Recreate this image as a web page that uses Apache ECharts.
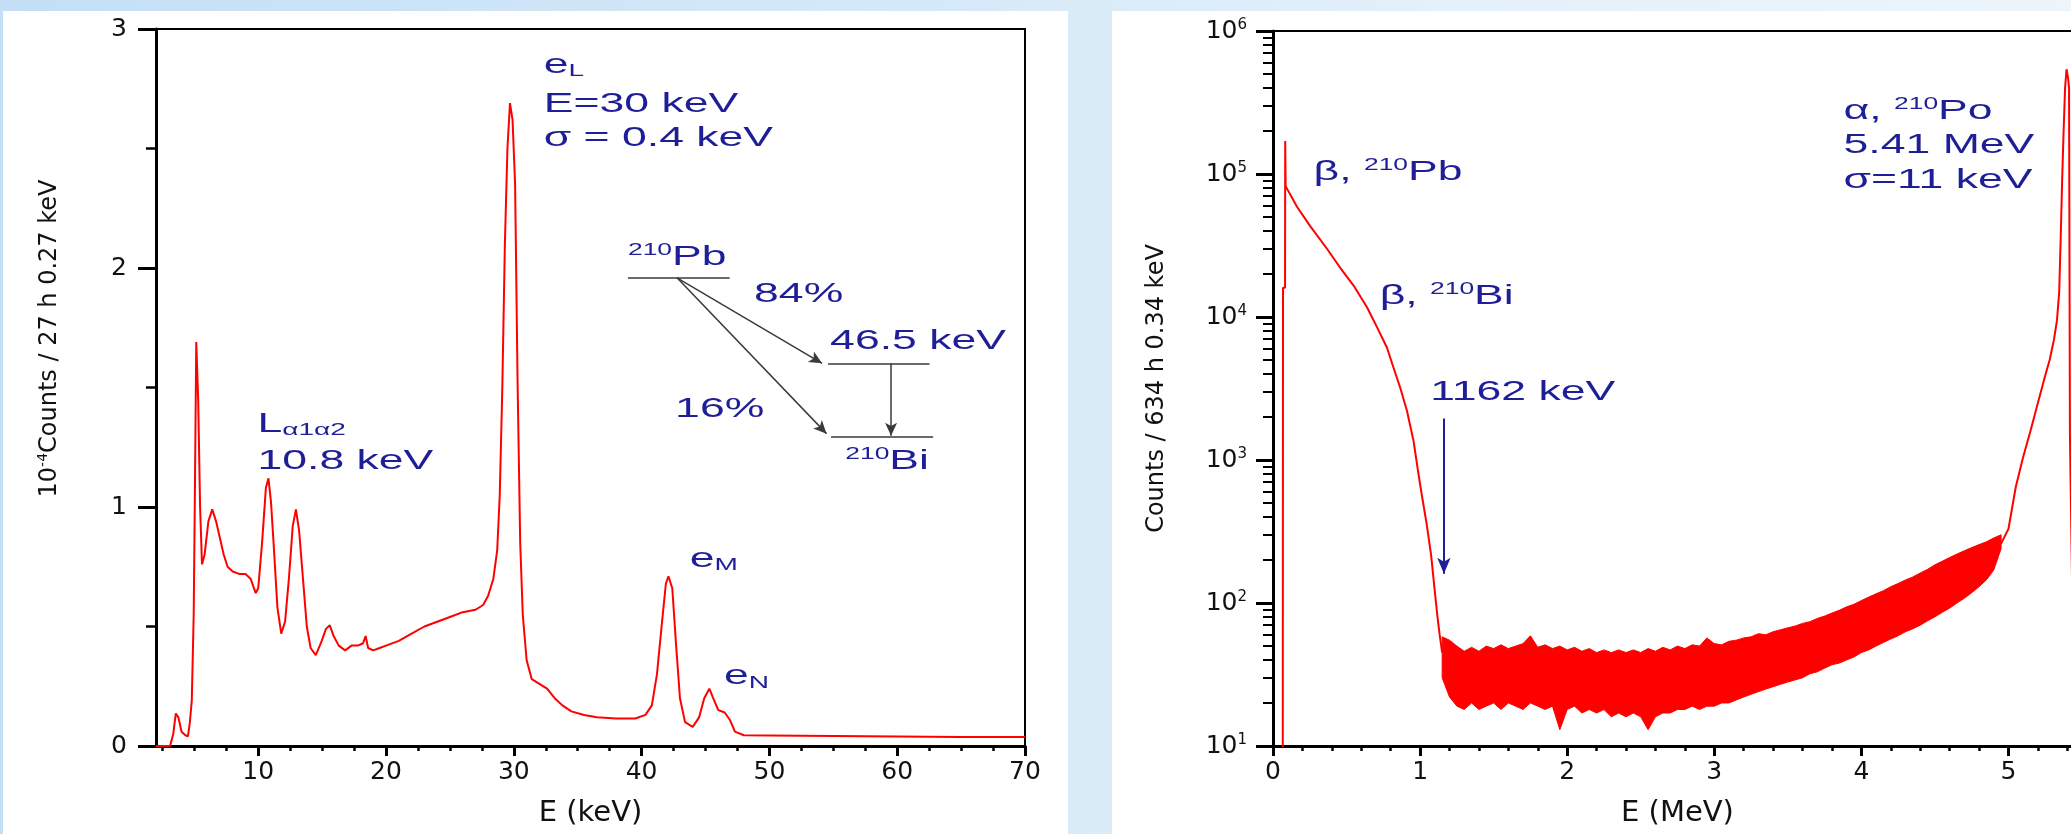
<!DOCTYPE html>
<html>
<head>
<meta charset="utf-8">
<script src="https://cdn.jsdelivr.net/npm/echarts@6/dist/echarts.min.js"></script>
<style>
  html, body { margin: 0; padding: 0; }
  body {
    width: 2071px; height: 834px; overflow: hidden; position: relative;
    background: linear-gradient(to right, #c4dff5 0%, #d6e9f8 45%, #e4f0fa 70%, #edf5fb 100%);
  }
  .panel { position: absolute; top: 11px; bottom: 0; background: #fff; }
  /* the right frame of the MeV plot lies just past the page edge, as in the original */
  #chart { position: absolute; left: 0; top: 0; width: 2100px; height: 834px; }
</style>
</head>
<body>
<div class="panel" style="left:3px;width:1065px"></div>
<div class="panel" style="left:1112px;width:959px"></div>
<div id="chart"></div>
<script>
// left panel: low energy spectrum (keV, 10^-4 counts)
const leftEnergy = [2.0, 3.1, 3.2, 3.35, 3.55, 3.75, 4.0, 4.3, 4.5, 4.65, 4.8, 4.95, 5.05, 5.15, 5.3, 5.45, 5.6, 5.8, 6.1, 6.4,
  6.7, 7.0, 7.3, 7.6, 8.0, 8.5, 9.0, 9.4, 9.8, 10.0, 10.3, 10.6, 10.8, 11.0, 11.2, 11.5, 11.8, 12.1, 12.4, 12.7,
  12.95, 13.2, 13.5, 13.8, 14.1, 14.5, 14.9, 15.3, 15.6, 15.9, 16.3, 16.8, 17.3, 17.8, 18.2, 18.4, 18.6, 19.0, 19.5, 20.0,
  21.0, 22.0, 23.0, 24.0, 25.0, 26.0, 27.0, 27.6, 28.0, 28.4, 28.7, 28.9, 29.1, 29.3, 29.5, 29.7, 29.9, 30.1, 30.3, 30.5,
  30.7, 31.0, 31.4, 32.0, 32.6, 33.2, 33.8, 34.5, 35.5, 36.5, 38.0, 39.5, 40.3, 40.8, 41.2, 41.6, 41.9, 42.1, 42.4, 42.7,
  43.0, 43.4, 44.0, 44.5, 44.9, 45.3, 45.6, 46.0, 46.5, 46.9, 47.3, 48.0, 50.0, 55.0, 60.0, 65.0, 70.0];
const leftCounts = [0, 0, 0.02, 0.05, 0.136, 0.12, 0.06, 0.045, 0.04, 0.10, 0.19, 0.55, 1.1, 1.69, 1.45, 1.0, 0.76, 0.80, 0.94, 0.99,
  0.94, 0.87, 0.80, 0.75, 0.73, 0.72, 0.72, 0.70, 0.64, 0.66, 0.85, 1.08, 1.12, 1.02, 0.85, 0.58, 0.47, 0.52, 0.70, 0.92,
  0.99, 0.90, 0.70, 0.50, 0.41, 0.38, 0.43, 0.49, 0.505, 0.46, 0.42, 0.40, 0.42, 0.42, 0.43, 0.46, 0.41, 0.40, 0.41, 0.42,
  0.44, 0.47, 0.50, 0.52, 0.54, 0.56, 0.57, 0.59, 0.63, 0.70, 0.82, 1.05, 1.50, 2.10, 2.50, 2.69, 2.62, 2.35, 1.50, 0.85,
  0.55, 0.36, 0.28, 0.26, 0.24, 0.20, 0.17, 0.145, 0.13, 0.12, 0.115, 0.115, 0.13, 0.17, 0.30, 0.52, 0.68, 0.71, 0.66, 0.42,
  0.20, 0.10, 0.08, 0.12, 0.20, 0.24, 0.20, 0.15, 0.14, 0.11, 0.06, 0.045, 0.044, 0.042, 0.040, 0.038, 0.038];

// right panel: beta part (MeV, counts)
const betaEnergy = [0.066, 0.068, 0.082, 0.083, 0.086, 0.095, 0.163, 0.254, 0.367, 0.458, 0.548, 0.639, 0.707, 0.775, 0.820,
  0.865, 0.911, 0.956, 0.985, 1.008, 1.044, 1.075, 1.097, 1.12, 1.133, 1.15];
const betaCounts = [1, 16000, 16000, 170000, 82000, 79000, 59000, 43000, 30000, 22000, 16600, 11700, 8500, 6100, 4400,
  3200, 2200, 1350, 850, 600, 360, 216, 129, 77, 60, 45];

// right panel: noisy flat region, lower and upper edge of the band
const bandEnergy = [1.15, 1.20, 1.25, 1.30, 1.35, 1.40, 1.45, 1.50, 1.55, 1.60, 1.65, 1.70, 1.75, 1.80, 1.85, 1.90, 1.95, 2.00,
  2.05, 2.10, 2.15, 2.20, 2.25, 2.30, 2.35, 2.40, 2.45, 2.50, 2.55, 2.60, 2.65, 2.70, 2.75, 2.80, 2.85, 2.90, 2.95, 3.00,
  3.05, 3.10, 3.15, 3.20, 3.25, 3.30, 3.35, 3.40, 3.45, 3.50, 3.55, 3.60, 3.65, 3.70, 3.75, 3.80, 3.85, 3.90, 3.95, 4.00,
  4.05, 4.10, 4.15, 4.20, 4.25, 4.30, 4.35, 4.40, 4.45, 4.50, 4.55, 4.60, 4.65, 4.70, 4.75, 4.80, 4.85, 4.90, 4.95];
const bandHigh = [58, 55, 50, 46, 49, 46, 50, 48, 51, 48, 50, 52, 59, 49, 51, 48, 50, 47,
  49, 46, 48, 45, 47, 45, 47, 45, 47, 45, 48, 46, 49, 47, 50, 48, 51, 50, 57, 52,
  51, 54, 55, 57, 58, 61, 60, 63, 65, 67, 69, 72, 74, 78, 81, 85, 89, 94, 98, 104,
  110, 116, 122, 130, 137, 145, 152, 162, 172, 185, 196, 208, 220, 232, 244, 256, 268, 285, 300];
const bandLow = [30, 22, 19, 18, 20, 18, 19, 20, 18, 20, 19, 18, 20, 19, 18, 19, 13, 18,
  19, 17, 18, 17, 18, 16, 17, 16, 17, 16, 13, 16, 17, 17, 18, 18, 19, 18, 19, 19,
  20, 20, 21, 22, 23, 24, 25, 26, 27, 28, 29, 30, 32, 33, 35, 37, 38, 40, 42, 45,
  47, 50, 53, 56, 59, 63, 66, 70, 75, 80, 86, 92, 100, 108, 118, 130, 145, 170, 240];

// right panel: alpha peak
const alphaEnergy = [4.95, 5.00, 5.05, 5.10, 5.15, 5.20, 5.25, 5.28, 5.31, 5.33, 5.345, 5.355, 5.365, 5.375, 5.385, 5.395,
  5.405, 5.412, 5.418, 5.44, 5.46];
const alphaCounts = [260, 330, 650, 1050, 1600, 2500, 3900, 5000, 7000, 9500, 15000, 35000, 90000, 200000, 400000, 540000,
  470000, 400000, 1500, 40, 1];

// ticks
const leftMajorTicks = [10, 20, 30, 40, 50, 60, 70];
const leftMinorTicks = [2.5, 5, 7.5, 12.5, 15, 17.5, 22.5, 25, 27.5, 32.5, 35, 37.5, 42.5, 45, 47.5, 52.5, 55, 57.5,
  62.5, 65, 67.5];
const rightMajorTicks = [0, 1, 2, 3, 4, 5];
const rightMinorTicks = [0.2, 0.4, 0.6, 0.8, 1.2, 1.4, 1.6, 1.8, 2.2, 2.4, 2.6, 2.8, 3.2, 3.4, 3.6, 3.8, 4.2, 4.4, 4.6, 4.8,
  5.2, 5.4];
const logMajorTicks = [10, 100, 1000, 10000, 100000, 1000000];
const logMinorTicks = [];
[10, 100, 1000, 10000, 100000].forEach((d) => {
  [2, 3, 4, 5, 6, 7, 8, 9].forEach((m) => logMinorTicks.push(m * d));
});

// decay scheme in the left panel (data units)
const schemeLines = [
  [[38.93, 1.959], [46.89, 1.959], false],
  [[54.59, 1.601], [62.53, 1.601], false],
  [[54.83, 1.296], [62.81, 1.296], false],
  [[42.77, 1.959], [54.12, 1.601], true],
  [[42.77, 1.959], [54.47, 1.307], true],
  [[59.52, 1.601], [59.52, 1.298], true],
];

const leftNotes = [
  { at: [32.34, 2.849], text: 'e{sub|L}' },
  { at: [32.34, 2.682], text: 'E=30 keV' },
  { at: [32.34, 2.542], text: 'σ = 0.4 keV' },
  { at: [38.93, 2.042], text: '{sup|210}Pb' },
  { at: [48.8, 1.889], text: '84%' },
  { at: [54.75, 1.692], text: '46.5 keV' },
  { at: [42.62, 1.408], text: '16%' },
  { at: [55.94, 1.192], text: '{sup|210}Bi' },
  { at: [9.94, 1.347], text: 'L{sub|α1α2}' },
  { at: [9.94, 1.192], text: '10.8 keV' },
  { at: [43.76, 0.782], text: 'e{sub|M}' },
  { at: [46.45, 0.291], text: 'e{sub|N}' },
];
const rightNotes = [
  { at: [0.276, 103000], text: 'β, {sup|210}Pb' },
  { at: [0.725, 14000], text: 'β, {sup|210}Bi' },
  { at: [1.069, 2940], text: '1162 keV' },
  { at: [3.879, 273000], text: 'α, {sup|210}Po' },
  { at: [3.879, 158000], text: '5.41 MeV' },
  { at: [3.879, 90000], text: 'σ=11 keV' },
];

const red = '#ff0000';
const navy = '#1e1e96';
const ink = '#111';
const fontFamily = '"Liberation Sans", Arial, Helvetica, sans-serif';
const axisFont = '"DejaVu Sans", "Liberation Sans", sans-serif';

const chartEl = document.getElementById("chart");
const chart = echarts.init(chartEl);

function tickAxis(gridIndex, type, min, max, values, length, width, position) {
  return {
    gridIndex: gridIndex,
    type: type,
    min: min,
    max: max,
    position: position,
    axisLine: { show: false },
    axisTick: { customValues: values, length: length, lineStyle: { color: "#000", width: width } },
    axisLabel: { show: false },
    splitLine: { show: false },
  };
}

const chartOption = {
  animation: false,
  backgroundColor: "transparent",
  grid: [
    { left: 156, right: 1075, top: 29, bottom: 88, show: true, borderColor: "#000", borderWidth: 2 },
    { left: 1273, right: 18, top: 31, bottom: 88, show: true, borderColor: "#000", borderWidth: 2 },
  ],
  xAxis: [
    {
      gridIndex: 0,
      type: "value",
      min: 2,
      max: 70,
      position: "bottom",
      name: "E (keV)",
      nameLocation: "middle",
      nameGap: 53,
      nameTextStyle: { fontSize: 29, color: ink, fontFamily: axisFont },
      axisLine: { onZero: false, lineStyle: { color: "#000", width: 3 } },
      axisTick: { customValues: leftMajorTicks, length: 10, lineStyle: { color: "#000", width: 3 } },
      axisLabel: { customValues: leftMajorTicks, fontSize: 25, color: ink, fontFamily: axisFont, margin: 14 },
      splitLine: { show: false },
    },
    tickAxis(0, "value", 2, 70, leftMinorTicks, 5, 2.5, "bottom"),
    {
      gridIndex: 1,
      type: "value",
      min: 0,
      max: 5.5,
      position: "bottom",
      name: "E (MeV)",
      nameLocation: "middle",
      nameGap: 53,
      nameTextStyle: { fontSize: 29, color: ink, fontFamily: axisFont },
      axisLine: { onZero: false, lineStyle: { color: "#000", width: 3 } },
      axisTick: { customValues: rightMajorTicks, length: 10, lineStyle: { color: "#000", width: 3 } },
      axisLabel: { customValues: rightMajorTicks, fontSize: 25, color: ink, fontFamily: axisFont, margin: 14 },
      splitLine: { show: false },
    },
    tickAxis(1, "value", 0, 5.5, rightMinorTicks, 5, 2.5, "bottom"),
  ],
  yAxis: [
    {
      gridIndex: 0,
      type: "value",
      min: 0,
      max: 3,
      interval: 1,
      position: "left",
      name: "10{sup|-4}Counts / 27 h 0.27 keV",
      nameLocation: "middle",
      nameGap: 92,
      nameTextStyle: {
        fontSize: 24,
        color: ink,
        fontFamily: axisFont,
        lineHeight: 28,
        padding: [0, 0, 0, 98],
        rich: { sup: { fontSize: 14, lineHeight: 14, verticalAlign: "top", color: ink, fontFamily: axisFont } },
      },
      axisLine: { onZero: false, lineStyle: { color: "#000", width: 3 } },
      axisTick: { length: 18, lineStyle: { color: "#000", width: 3 } },
      minorTick: { show: true, splitNumber: 2, length: 10, lineStyle: { color: "#000", width: 2.5 } },
      axisLabel: { fontSize: 25, color: ink, fontFamily: axisFont, margin: 29 },
      splitLine: { show: false },
    },
    {
      gridIndex: 1,
      type: "log",
      logBase: 10,
      min: 10,
      max: 1000000,
      position: "left",
      name: "Counts / 634 h 0.34 keV",
      nameLocation: "middle",
      nameGap: 104,
      nameTextStyle: { fontSize: 24, color: ink, fontFamily: axisFont },
      axisLine: { onZero: false, lineStyle: { color: "#000", width: 3 } },
      axisTick: { customValues: logMajorTicks, length: 17, lineStyle: { color: "#000", width: 3 } },
      axisLabel: {
        customValues: logMajorTicks,
        margin: 26,
        formatter: function (value) {
          return "{b|10}{e|" + Math.round(Math.log10(value)) + "}";
        },
        rich: {
          b: { fontSize: 25, lineHeight: 27, color: ink, fontFamily: axisFont },
          e: { fontSize: 15, lineHeight: 15, verticalAlign: "top", color: ink, fontFamily: axisFont },
        },
      },
      splitLine: { show: false },
    },
    tickAxis(1, "log", 10, 1000000, logMinorTicks, 10, 2, "left"),
  ],
  series: [
    {
      name: "low energy",
      type: "line",
      xAxisIndex: 0,
      yAxisIndex: 0,
      data: leftEnergy.map((e, i) => [e, leftCounts[i]]),
      showSymbol: false,
      symbol: "none",
      lineStyle: { color: red, width: 2 },
      clip: true,
      z: 3,
      markLine: {
        silent: true,
        animation: false,
        label: { show: false },
        emphasis: { disabled: true },
        lineStyle: { color: "#3a3a3a", width: 1.5, type: "solid" },
        data: schemeLines.map((l) => [
          { coord: l[0], symbol: "none" },
          { coord: l[1], symbol: l[2] ? "arrow" : "none", symbolSize: [9, 13] },
        ]),
      },
    },
    {
      name: "beta",
      type: "line",
      xAxisIndex: 2,
      yAxisIndex: 1,
      data: betaEnergy.map((e, i) => [e, betaCounts[i]]),
      showSymbol: false,
      symbol: "none",
      lineStyle: { color: red, width: 2 },
      clip: true,
      z: 3,
      markLine: {
        silent: true,
        animation: false,
        label: { show: false },
        emphasis: { disabled: true },
        lineStyle: { color: navy, width: 2, type: "solid" },
        data: [[
          { coord: [1.162, 1950], symbol: "none" },
          { coord: [1.162, 160], symbol: "arrow", symbolSize: [10, 16] },
        ]],
      },
    },
    {
      name: "flat region",
      type: "custom",
      xAxisIndex: 2,
      yAxisIndex: 1,
      clip: true,
      silent: true,
      z: 3,
      data: bandEnergy.map((e, i) => [e, bandLow[i], bandHigh[i]]),
      renderItem: function (params, api) {
        if (params.dataIndex !== 0) return null;
        const top = bandEnergy.map((e, i) => api.coord([e, bandHigh[i]]));
        const bottom = bandEnergy.map((e, i) => api.coord([e, bandLow[i]])).reverse();
        return {
          type: "polygon",
          shape: { points: top.concat(bottom) },
          style: { fill: red, stroke: red, lineWidth: 1 },
        };
      },
    },
    {
      name: "alpha",
      type: "line",
      xAxisIndex: 2,
      yAxisIndex: 1,
      data: alphaEnergy.map((e, i) => [e, alphaCounts[i]]),
      showSymbol: false,
      symbol: "none",
      lineStyle: { color: red, width: 2 },
      clip: true,
      z: 3,
    },
  ],
};

chart.setOption(chartOption);

// annotations, anchored in data units and drawn a little wider like the original figure
function noteElement(seriesIndex, note) {
  const p = chart.convertToPixel({ seriesIndex: seriesIndex }, note.at);
  return {
    type: "text",
    x: p[0],
    y: p[1],
    scaleX: 1.65,
    silent: true,
    z: 10,
    style: {
      text: note.text,
      fill: navy,
      fontSize: 27,
      fontFamily: fontFamily,
      lineHeight: 30,
      align: "left",
      verticalAlign: "middle",
      textAlign: "left",
      textVerticalAlign: "middle",
      rich: {
        sup: { fontSize: 16, lineHeight: 16, verticalAlign: "top", fill: navy, fontFamily: fontFamily },
        sub: { fontSize: 17, lineHeight: 16, verticalAlign: "bottom", fill: navy, fontFamily: fontFamily },
      },
    },
  };
}

chart.setOption({
  graphic: leftNotes.map((n) => noteElement(0, n)).concat(rightNotes.map((n) => noteElement(1, n))),
});

window.addEventListener("resize", () => {
  chart.resize();
});
</script>
</body>
</html>
